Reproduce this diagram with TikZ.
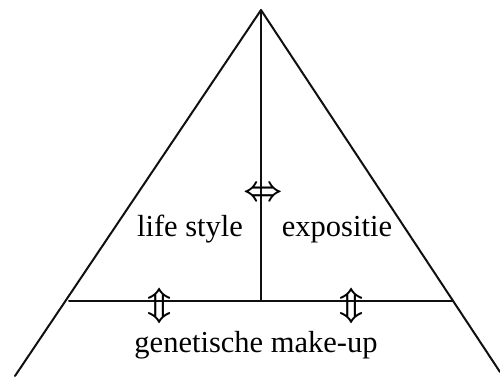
\documentclass[tikz,border=0pt]{standalone}
\usepackage{fontspec}
\setmainfont{Liberation Serif}
\definecolor{ink}{HTML}{101010}
\newcommand{\Edge}{2pt}
\newcommand{\Size}{30.5}

\begin{document}
\begin{tikzpicture}[x=1pt,y=1pt, line join=round, line cap=round,
  label/.style={font=\fontsize{\Size}{\Size}\selectfont, inner sep=0pt, anchor=base},
  arrowmark/.style={font=\Huge\boldmath, inner sep=0pt, scale=1.38}]
  \useasboundingbox (0,0) rectangle (500,376);

  % ---- corners of the pyramid ---------------------------------------------
  \coordinate (top) at (261,366);
  \coordinate (left) at (15,0);
  \coordinate (right) at (500,4);
  \coordinate (baseL) at (69,75);
  \coordinate (baseR) at (453,75);
  \coordinate (mid) at (261,75);

  % ---- outline ------------------------------------------------------------
  \draw[ink,line width=\Edge] (left) -- (top) -- (right);
  \draw[ink,line width=\Edge] (baseL) -- (baseR);
  \draw[ink,line width=\Edge] (top) -- (mid);

  % ---- the three fields ---------------------------------------------------
  \node[label] (life) at (190,140) {life style};
  \node[label] (expo) at (337,140) {expositie};
  \node[label] (gen) at (256,24) {genetische make-up};

  % ---- interactions -------------------------------------------------------
  \node[arrowmark] (lr) at (263,182) {$\Leftrightarrow$};
  \node[arrowmark] (udL) at (160,70) {$\Updownarrow$};
  \node[arrowmark] (udR) at (352,70) {$\Updownarrow$};

\end{tikzpicture}
\end{document}
